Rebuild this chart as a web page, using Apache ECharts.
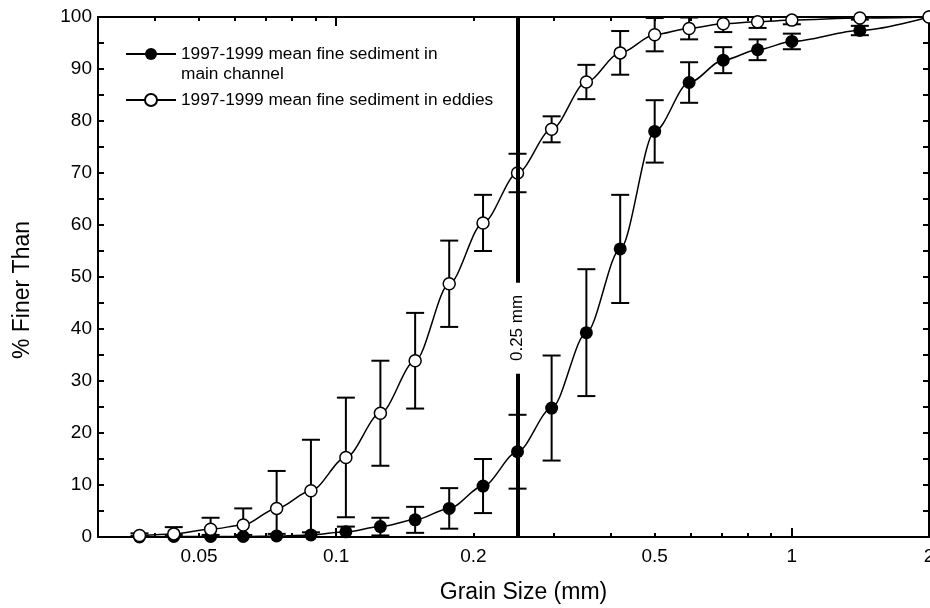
<!DOCTYPE html>
<html><head><meta charset="utf-8">
<script src="https://cdn.jsdelivr.net/npm/echarts@6/dist/echarts.min.js"></script>
<style>html,body{margin:0;padding:0;background:#fff}#c{width:930px;height:608px}</style>
</head><body><div id="c"></div>
<script>
// ---- data ----
const grainSizes = [0.037,0.044,0.053,0.0625,0.074,0.088,0.105,0.125,0.149,0.177,0.21,0.25,0.297,0.354,0.42,0.5,0.595,0.707,0.841,1.0,1.41,2.0];
const mainMean   = [0.0,0.1,0.1,0.1,0.2,0.4,1.0,2.0,3.3,5.5,9.8,16.4,24.8,39.3,55.4,78.0,87.4,91.7,93.7,95.3,97.4,100];
const mainErr    = [0.2,0.3,0.3,0.3,0.4,0.5,1.0,1.7,2.5,3.9,5.2,7.1,10.1,12.2,10.4,6.0,3.9,2.5,2.0,1.5,0.9,0];
const eddiesMean = [0.3,0.6,1.5,2.3,5.5,8.9,15.3,23.8,33.9,48.7,60.4,70.0,78.4,87.5,93.1,96.6,97.8,98.7,99.1,99.4,99.8,100];
const eddiesErr  = [0.4,1.3,2.2,3.2,7.2,9.8,11.5,10.1,9.2,8.3,5.4,3.7,2.5,3.3,4.2,3.2,2.1,1.6,1.2,0.8,0.3,0];
const xTickLabels = [0.05,0.1,0.2,0.5,1,2];
const xMinorTicks = [0.04,0.05,0.06,0.07,0.08,0.09,0.2,0.3,0.4,0.5,0.6,0.7,0.8,0.9];
const xMajorTicks = [0.1,1,2];
const xMin = 0.03, xMax = 2;
const yTickLabels = [0,10,20,30,40,50,60,70,80,90,100];
const refSize = 0.25;
const refLabel = '0.25 mm';
const refGap = [31.4, 48.9];
const refLabelY = 40.2;
const mainName = '1997-1999 mean fine sediment in main channel';
const eddiesName = '1997-1999 mean fine sediment in eddies';

const lg = v => Math.log10(v);
const FONT = '"Liberation Sans", Arial, sans-serif';

function xAxisDef(pos, ticks, len, opts) {
  return Object.assign({
    type: 'value', position: pos, min: lg(xMin), max: lg(xMax),
    axisLine: { show: true, onZero: false, lineStyle: { color: '#000', width: 2 } },
    axisTick: { show: true, inside: true, length: len, customValues: ticks.map(lg), lineStyle: { color: '#000', width: 2 } },
    axisLabel: { show: false },
    splitLine: { show: false }
  }, opts || {});
}
function yAxisDef(pos, opts) {
  return Object.assign({
    type: 'value', position: pos, min: 0, max: 100, interval: 5,
    axisLine: { show: true, onZero: false, lineStyle: { color: '#000', width: 2 } },
    axisTick: { show: true, inside: true, length: 6, lineStyle: { color: '#000', width: 2 } },
    axisLabel: { show: false },
    splitLine: { show: false }
  }, opts || {});
}

function errSeries(mean, err) {
  return {
    type: 'custom', xAxisIndex: 0, yAxisIndex: 0, z: 1, clip: true, silent: true,
    data: grainSizes.map((s, i) => [lg(s), mean[i] - err[i], mean[i] + err[i], err[i]]),
    encode: { x: 0, y: [1, 2] },
    renderItem(params, api) {
      if (api.value(3) <= 0) return null;
      const x = api.value(0);
      const lo = api.coord([x, api.value(1)]);
      const hi = api.coord([x, api.value(2)]);
      const w = 9, st = { stroke: '#000', lineWidth: 2 };
      return { type: 'group', children: [
        { type: 'line', shape: { x1: lo[0], y1: lo[1], x2: hi[0], y2: hi[1] }, style: st },
        { type: 'line', shape: { x1: hi[0] - w, y1: hi[1], x2: hi[0] + w, y2: hi[1] }, style: st },
        { type: 'line', shape: { x1: lo[0] - w, y1: lo[1], x2: lo[0] + w, y2: lo[1] }, style: st }
      ]};
    }
  };
}

const chart = echarts.init(document.getElementById('c'), null, { renderer: 'canvas' });
chart.setOption({
  animation: false,
  backgroundColor: '#fff',
  textStyle: { fontFamily: FONT, color: '#000' },
  grid: { left: 98, right: 1, top: 17, bottom: 71, containLabel: false, outerBoundsMode: 'none' },
  legend: {
    left: 125, top: 24, orient: 'vertical', padding: 0, itemGap: 6,
    itemWidth: 50, itemHeight: 15,
    textStyle: { fontFamily: FONT, fontSize: 17.3, lineHeight: 20, color: '#000' },
    data: [mainName, eddiesName],
    formatter: n => n === mainName ? '\n1997-1999 mean fine sediment in\nmain channel' : n
  },
  xAxis: [
    xAxisDef('bottom', xMinorTicks, 4, {
      name: 'Grain Size (mm)', nameLocation: 'middle', nameGap: 44,
      nameTextStyle: { fontFamily: FONT, fontSize: 23, color: '#000', padding: [0, 0, 0, 20] },
      axisLabel: {
        show: true, margin: 10, fontFamily: FONT, fontSize: 19, color: '#000',
        customValues: xTickLabels.map(lg),
        formatter: v => { const m = xTickLabels.find(l => Math.abs(lg(l) - v) < 1e-6); return m === undefined ? '' : String(m); }
      }
    }),
    xAxisDef('bottom', xMajorTicks, 9, { axisLine: { show: false, onZero: false } }),
    xAxisDef('top', xMinorTicks, 4),
    xAxisDef('top', xMajorTicks, 9, { axisLine: { show: false, onZero: false } })
  ],
  yAxis: [
    yAxisDef('left', {
      name: '% Finer Than', nameLocation: 'middle', nameGap: 64, nameRotate: 90,
      nameTextStyle: { fontFamily: FONT, fontSize: 23, color: '#000', padding: [0, 26, 0, 0] },
      axisLabel: { show: true, margin: 6, fontFamily: FONT, fontSize: 19, color: '#000',
        formatter: v => yTickLabels.indexOf(v) >= 0 ? String(v) : '' }
    }),
    yAxisDef('right')
  ],
  series: [
    errSeries(mainMean, mainErr),
    errSeries(eddiesMean, eddiesErr),
    {
      name: 'ref', type: 'line', xAxisIndex: 0, yAxisIndex: 0, data: [], z: 2, silent: true,
      markLine: {
        silent: true, symbol: ['none', 'none'], animation: false,
        lineStyle: { color: '#000', width: 4, type: 'solid' }, label: { show: false },
        data: [
          [{ coord: [lg(refSize), 0] }, { coord: [lg(refSize), refGap[0]] }],
          [{ coord: [lg(refSize), refGap[1]] }, { coord: [lg(refSize), 100] }]
        ]
      },
      markPoint: {
        silent: true, symbol: 'circle', symbolSize: 1, itemStyle: { color: 'rgba(0,0,0,0)' }, animation: false,
        label: { show: true, position: 'inside', rotate: 90, formatter: refLabel, fontFamily: FONT, fontSize: 17, color: '#000' },
        data: [{ coord: [lg(refSize), refLabelY] }]
      }
    },
    {
      name: mainName, type: 'line', xAxisIndex: 0, yAxisIndex: 0, z: 3,
      data: grainSizes.map((s, i) => [lg(s), mainMean[i]]),
      smooth: 0.3, smoothMonotone: 'x',
      symbol: 'circle', symbolSize: 13, showSymbol: true,
      lineStyle: { color: '#000', width: 1.5 },
      itemStyle: { color: '#000', borderColor: '#000', borderWidth: 0 }
    },
    {
      name: eddiesName, type: 'line', xAxisIndex: 0, yAxisIndex: 0, z: 4,
      data: grainSizes.map((s, i) => [lg(s), eddiesMean[i]]),
      smooth: 0.3, smoothMonotone: 'x',
      symbol: 'circle', symbolSize: 12, showSymbol: true,
      lineStyle: { color: '#000', width: 1.5 },
      itemStyle: { color: '#fff', borderColor: '#000', borderWidth: 1.5 }
    }
  ]
});
</script></body></html>
